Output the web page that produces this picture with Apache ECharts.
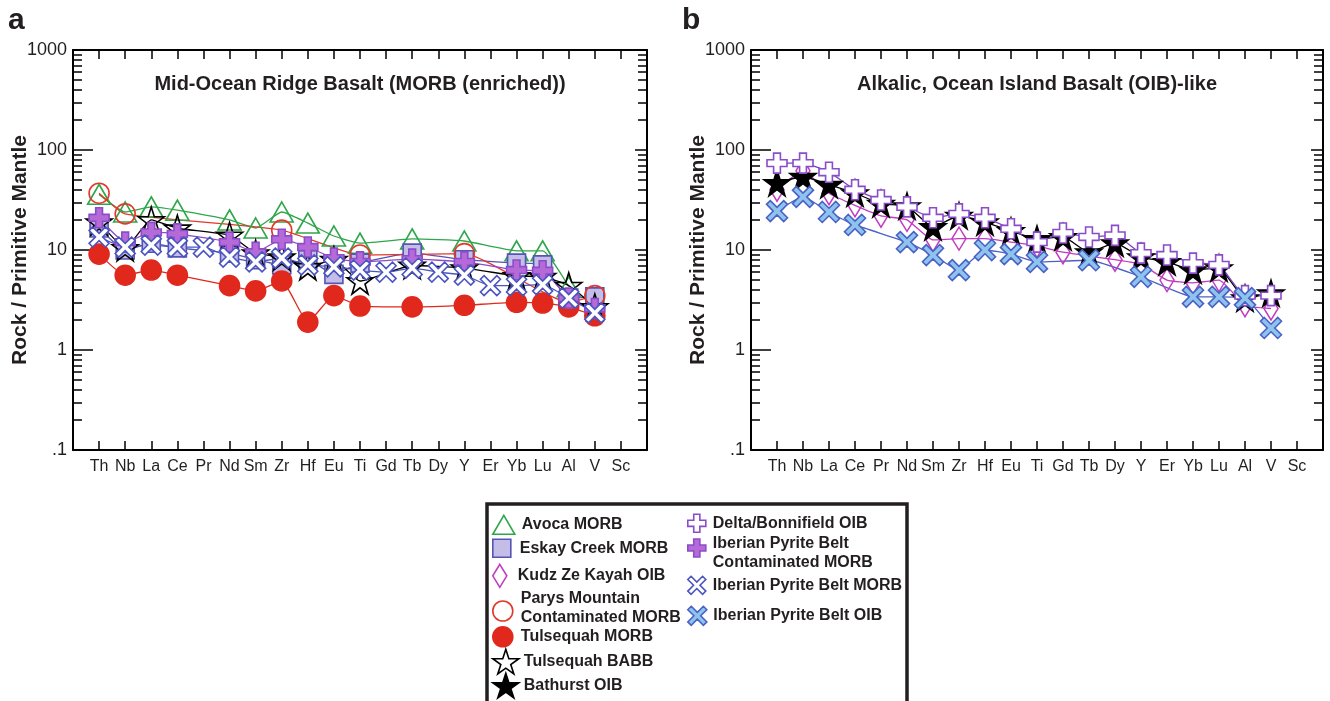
<!DOCTYPE html>
<html><head><meta charset="utf-8">
<script src="https://cdn.jsdelivr.net/npm/echarts@6/dist/echarts.min.js"></script>
<style>html,body{margin:0;padding:0;background:#fff}#c{width:1330px;height:701px}</style>
</head><body><div id="c"></div><script>
// ---------- DATA ----------
const elements = ['Th','Nb','La','Ce','Pr','Nd','Sm','Zr','Hf','Eu','Ti','Gd','Tb','Dy','Y','Er','Yb','Lu','Al','V','Sc'];
const yTickValues = [0.1, 1, 10, 100, 1000];
const yTickLabels = ['.1', '1', '10', '100', '1000'];
const panelTitles = ['Mid-Ocean Ridge Basalt (MORB (enriched))', 'Alkalic, Ocean Island Basalt (OIB)-like'];
const panelLetters = ['a', 'b'];
const yAxisName = 'Rock / Primitive Mantle';

// Panel a (MORB)           Th   Nb   La   Ce   Pr   Nd   Sm   Zr   Hf   Eu   Ti   Gd   Tb   Dy   Y    Er   Yb   Lu   Al   V    Sc
const avocaMORB        = [36,  24,  27,  25,  null,20,  16.6,24,  18.6,13.8,11.7,null,12.9,null,12.3,null,9.8, 9.8, 4.3, null,null];
const eskayCreekMORB   = [16.6,10,  11.7,10.5,null,9.3, 8,   7.1, 8,   5.7, 7.4, null,9.3, null,8,   null,7.4, 7.1, 3.3, 3.4, null];
const parysMountain    = [37,  23,  null,null,null,null,null,15.8,null,null,8.9, null,null,null,9.2, null,null,null,3.0, 3.5, null];
const tulsequahMORB    = [9.1, 5.6, 6.3, 5.6, null,4.4, 3.9, 4.9, 1.9, 3.5, 2.75,null,2.7, null,2.8, null,3.0, 2.95,2.7, 2.2, null];
const tulsequahBABB    = [19,  10.5,20,  16.5,null,14,  9.3, 8.5, 6.8, 8,   4.9, null,7,   null,6.6, null,5.5, 5.4, 4.4, 2.7, null];
const ipbContamMORB    = [21,  12,  15,  14.5,null,12,  9.5, 12.8,10.7,8.3, 7.6, null,8.1, null,7.6, null,6.3, 6.2, 3.3, 2.6, null];
const ipbMORB          = [13.5,10.7,11.2,10.7,10.7,8.5, 7.6, 8.3, 7.1, 6.8, 6.3, 6.0, 6.6, 6.0, 5.6, 4.4, 4.4, 4.5, 3.3, 2.35,null];
// Panel b (OIB)
const kudzZeKayahOIB   = [40,  62,  37,  28,  22,  20,  12.6,13,  13,  12,  11,  9.5, null,8,   7.2, 5,   4.7, 5,   2.8, 2.6, null];
const bathurstOIB      = [47,  54,  45,  37,  29,  27.5,17,  22,  19,  15.5,12.9,13.5,9.5, 11.7,8.5, 7.6, 6.3, 6.6, 3.3, 3.7, null];
const deltaBonnifield  = [74,  74,  60,  40,  31.6,27,  21,  23,  21,  16.3,12,  14.8,13.5,14,  9.3, 8.9, 7.4, 7.1, 3.5, 3.5, null];
const ipbOIB           = [24.5,34,  24,  17.8,null,12,  8.9, 6.3, 10,  9.1, 7.6, null,7.9, null,5.4, null,3.4, 3.4, 3.3, 1.66,null];

// ---------- STYLE ----------
const FONT = '"Liberation Sans", Arial, Helvetica, sans-serif';
const INK = '#231f20';
const STAR = 'path://M50,0 L61.2,34.5 L97.6,34.5 L68.2,55.9 L79.4,90.5 L50,69.1 L20.6,90.5 L31.8,55.9 L2.4,34.5 L38.8,34.5 Z';
const PLUS = 'path://M33,0 H67 V33 H100 V67 H67 V100 H33 V67 H0 V33 H33 Z';
const XMARK = 'path://M18,0 L50,32 L82,0 L100,18 L68,50 L100,82 L82,100 L50,68 L18,100 L0,82 L32,50 L0,18 Z';
const TRI_I = 'path://M11,0 L22,19 L0,19 Z';
const SQ_I = 'path://M0,0 H18 V18 H0 Z';
const DIA_I = 'path://M7,0 L14,11.5 L7,23 L0,11.5 Z';
const CIR_I = 'path://M0,10 a10,10 0 1,0 20,0 a10,10 0 1,0 -20,0 Z';

const seriesDefs = [
  {name:'Avoca MORB', data:avocaMORB, g:0, symbol:'triangle', size:[23,20], fill:'rgba(255,255,255,0)', stroke:'#2fa64a', line:'#2fa64a'},
  {name:'Eskay Creek MORB', data:eskayCreekMORB, g:0, symbol:'rect', size:18, fill:'#c4bde8', stroke:'#5553b5', line:'#5553b5'},
  {name:'Kudz Ze Kayah OIB', data:kudzZeKayahOIB, g:1, symbol:'diamond', size:[14,23], fill:'rgba(255,255,255,0)', stroke:'#c23cc0', line:'#c23cc0'},
  {name:'Parys Mountain Contaminated MORB', data:parysMountain, g:0, symbol:'circle', size:20, fill:'rgba(255,255,255,0)', stroke:'#e2392a', line:'#e2392a'},
  {name:'Tulsequah MORB', data:tulsequahMORB, g:0, symbol:'circle', size:20, fill:'#e1281d', stroke:'#e1281d', line:'#e1281d'},
  {name:'Tulsequah BABB', data:tulsequahBABB, g:0, symbol:STAR, size:26, fill:'rgba(255,255,255,0)', stroke:'#000', line:'#000'},
  {name:'Bathurst OIB', data:bathurstOIB, g:1, symbol:STAR, size:26, fill:'#000', stroke:'#000', line:'#000'},
  {name:'Delta/Bonnifield OIB', data:deltaBonnifield, g:1, symbol:PLUS, size:20, fill:'#fff', stroke:'#8a4cc8', line:'#7a40c0'},
  {name:'Iberian Pyrite Belt Contaminated MORB', data:ipbContamMORB, g:0, symbol:PLUS, size:20, fill:'#b56ad8', stroke:'#8a4cc8', line:'#8a4cc8'},
  {name:'Iberian Pyrite Belt MORB', data:ipbMORB, g:0, symbol:XMARK, size:20, fill:'#fff', stroke:'#4a55c0', line:'#4a55c0'},
  {name:'Iberian Pyrite Belt OIB', data:ipbOIB, g:1, symbol:XMARK, size:21, fill:'#8ec3ee', stroke:'#4a62c4', line:'#4a62c4'}
];

// two-line legend entries: [first line, second line, first line height, second line height]
const legendTwoLine = {
  'Parys Mountain Contaminated MORB': ['Parys Mountain', 'Contaminated MORB', 14, 24],
  'Iberian Pyrite Belt Contaminated MORB': ['Iberian Pyrite Belt', 'Contaminated MORB', 30, 8]
};
const LH = 19;
const legendLayout = [
  {name:'Avoca MORB', left:492, cy:524, w:26, h:19, icon:TRI_I},
  {name:'Eskay Creek MORB', left:492, cy:548, w:26, h:18, icon:SQ_I},
  {name:'Kudz Ze Kayah OIB', left:492, cy:575, w:26, h:23, icon:DIA_I},
  {name:'Parys Mountain Contaminated MORB', left:492, cy:610, w:26, h:20, icon:CIR_I},
  {name:'Tulsequah MORB', left:492, cy:636, w:26, h:20, icon:CIR_I},
  {name:'Tulsequah BABB', left:492, cy:661, w:26, h:25, icon:STAR},
  {name:'Bathurst OIB', left:492, cy:685, w:26, h:25, icon:STAR},
  {name:'Delta/Bonnifield OIB', left:687, cy:523, w:22, h:18, icon:PLUS},
  {name:'Iberian Pyrite Belt Contaminated MORB', left:687, cy:548, w:22, h:18, icon:PLUS},
  {name:'Iberian Pyrite Belt MORB', left:687, cy:585, w:22, h:18, icon:XMARK},
  {name:'Iberian Pyrite Belt OIB', left:687, cy:615, w:22, h:19, icon:XMARK}
];

const minorTickVals = [];
for (let e = -1; e < 3; e++) for (let m = 2; m <= 9; m++) minorTickVals.push(+(m * Math.pow(10, e)).toPrecision(3));

const grids = [
  {left:73, top:50, width:574, height:400, outerBoundsMode:'none'},
  {left:751, top:50, width:572, height:400, outerBoundsMode:'none'}
];

function yLabel(v) {
  const i = yTickValues.findIndex(t => Math.abs(Math.log10(t) - Math.log10(v)) < 1e-6);
  return i >= 0 ? yTickLabels[i] : '';
}
const axisLineStyle = {show:true, onZero:false, lineStyle:{color:'#000', width:2}};
const noLine = {show:false, onZero:false};
const tickStyle = {color:'#000', width:1.5};

const xAxis = [], yAxis = [];
[0, 1].forEach(g => {
  const xBase = {gridIndex:g, type:'value', min:-1, max:21, interval:1, splitLine:{show:false}, axisLine:axisLineStyle};
  xAxis.push(Object.assign({}, xBase, {
    position:'bottom',
    axisTick:{show:true, inside:true, length:9, lineStyle:tickStyle},
    axisLabel:{show:true, margin:9, color:INK, fontSize:16, fontFamily:FONT,
      formatter: v => (v >= 0 && v < elements.length) ? elements[v] : ''}
  }));
  xAxis.push(Object.assign({}, xBase, {
    position:'top',
    axisTick:{show:true, inside:true, length:9, lineStyle:tickStyle},
    axisLabel:{show:false}
  }));
  const yBase = {gridIndex:g, type:'log', logBase:10, min:0.1, max:1000, splitLine:{show:false}};
  yAxis.push(Object.assign({}, yBase, {
    position:'left', axisLine:axisLineStyle,
    axisTick:{show:true, inside:true, length:20, lineStyle:tickStyle},
    axisLabel:{show:true, margin:6, color:INK, fontSize:18, fontFamily:FONT, formatter:yLabel},
    name:yAxisName, nameLocation:'middle', nameGap:42, nameMoveOverlap:false,
    nameTextStyle:{fontSize:21, fontWeight:'bold', color:INK, fontFamily:FONT}
  }));
  yAxis.push(Object.assign({}, yBase, {
    position:'left', axisLine:noLine,
    axisTick:{show:true, inside:true, length:9, customValues:minorTickVals, lineStyle:tickStyle},
    axisLabel:{show:false}
  }));
  yAxis.push(Object.assign({}, yBase, {
    position:'right', axisLine:axisLineStyle,
    axisTick:{show:true, inside:true, length:12, lineStyle:tickStyle},
    axisLabel:{show:false}
  }));
  yAxis.push(Object.assign({}, yBase, {
    position:'right', axisLine:noLine,
    axisTick:{show:true, inside:true, length:9, customValues:minorTickVals, lineStyle:tickStyle},
    axisLabel:{show:false}
  }));
});

const series = seriesDefs.map(s => ({
  name:s.name, type:'line',
  xAxisIndex:s.g * 2, yAxisIndex:s.g * 4,
  data:s.data.map((v, i) => v == null ? null : [i, v]).filter(d => d),
  symbol:s.symbol, symbolSize:s.size, smooth:0.15,
  lineStyle:{color:s.line, width:1.3},
  itemStyle:{color:s.fill, borderColor:s.stroke, borderWidth:1.6},
  emphasis:{disabled:true}
}));

const legendTextStyle = {fontSize:16, fontWeight:'bold', color:INK, fontFamily:FONT, lineHeight:LH};
const legends = legendLayout.map(L => {
  const two = legendTwoLine[L.name];
  const textH = two ? two[2] + two[3] : LH;
  const boxH = Math.max(L.h, textH);
  const ts = Object.assign({}, legendTextStyle);
  if (two) {
    ts.rich = {
      l1:Object.assign({}, legendTextStyle, {lineHeight:two[2]}),
      l2:Object.assign({}, legendTextStyle, {lineHeight:two[3]})
    };
  }
  return {
    left:L.left, top:L.cy - boxH / 2, padding:0, orient:'vertical',
    itemWidth:L.w, itemHeight:L.h, selectedMode:false,
    itemStyle:{borderWidth:1.6},
    data:[{name:L.name, icon:L.icon}],
    formatter: n => legendTwoLine[n] ? '{l1|' + legendTwoLine[n][0] + '}\n{l2|' + legendTwoLine[n][1] + '}' : n,
    textStyle:ts
  };
});

const graphic = [
  {type:'rect', shape:{x:487, y:504, width:420, height:230}, style:{fill:'none', stroke:INK, lineWidth:3.5}, silent:true},
  {type:'text', x:360, y:84, style:{text:panelTitles[0], align:'center', verticalAlign:'middle', font:'bold 20px ' + FONT, fill:INK}},
  {type:'text', x:1037, y:84, style:{text:panelTitles[1], align:'center', verticalAlign:'middle', font:'bold 20px ' + FONT, fill:INK}},
  {type:'text', x:8, y:21, style:{text:panelLetters[0], align:'left', verticalAlign:'middle', font:'bold 30px ' + FONT, fill:INK}},
  {type:'text', x:682, y:21, style:{text:panelLetters[1], align:'left', verticalAlign:'middle', font:'bold 30px ' + FONT, fill:INK}}
];

const chart = echarts.init(document.getElementById('c'), null, {renderer:'canvas'});
chart.setOption({
  animation:false,
  backgroundColor:'#fff',
  textStyle:{fontFamily:FONT},
  grid:grids, xAxis, yAxis, series, legend:legends, graphic
});
</script></body></html>
